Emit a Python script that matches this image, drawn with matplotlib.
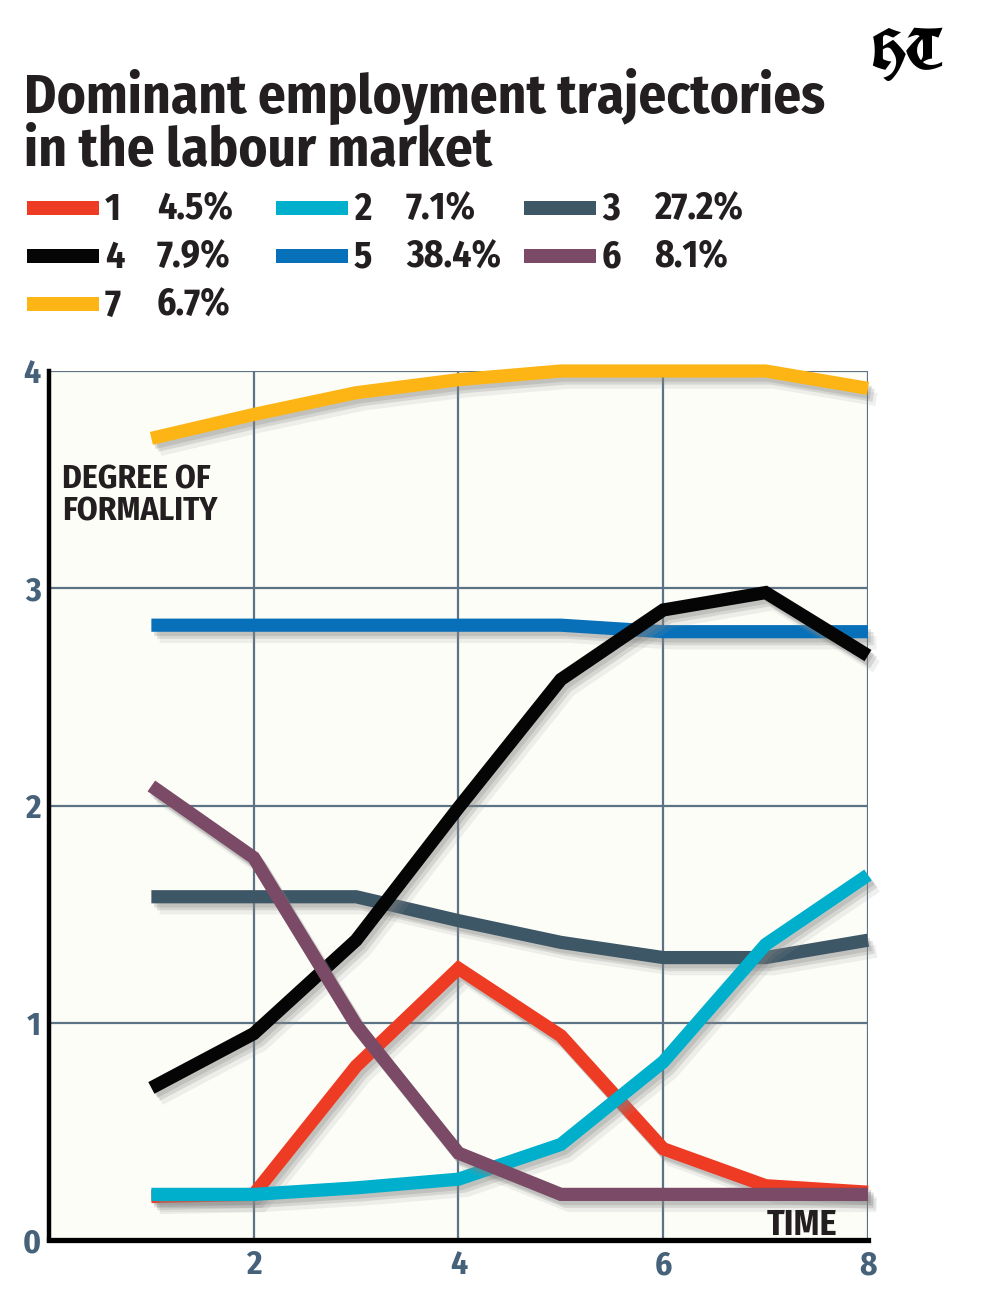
import matplotlib
matplotlib.use("Agg")
import matplotlib.pyplot as plt
import matplotlib.patheffects as pe

# data
time = [1, 2, 3, 4, 5, 6, 7, 8]
traj_ids = ["1", "2", "3", "4", "5", "6", "7"]
shares = ["4.5%", "7.1%", "27.2%", "7.9%", "38.4%", "8.1%", "6.7%"]
t1 = [0.20, 0.21, 0.80, 1.25, 0.94, 0.42, 0.25, 0.22]
t2 = [0.21, 0.21, 0.24, 0.28, 0.44, 0.82, 1.36, 1.68]
t3 = [1.58, 1.58, 1.58, 1.47, 1.37, 1.30, 1.30, 1.38]
t4 = [0.70, 0.95, 1.38, 1.99, 2.58, 2.90, 2.98, 2.69]
t5 = [2.83, 2.83, 2.83, 2.83, 2.83, 2.80, 2.80, 2.80]
t6 = [2.09, 1.76, 0.99, 0.40, 0.21, 0.21, 0.21, 0.21]
t7 = [3.69, 3.80, 3.90, 3.96, 4.00, 4.00, 4.00, 3.92]
xticks = [2, 4, 6, 8]
yticks = [0, 1, 2, 3, 4]
colors = ["#ee3b24", "#00afcb", "#3e5766", "#050505", "#0870b8", "#7a4a66", "#fdb515"]
series = [t1, t2, t3, t4, t5, t6, t7]
draw_order = [6, 4, 2, 3, 0, 1, 5]  # yellow at bottom, purple on top

COND = ["Fira Sans Condensed", "DejaVu Sans"]
INK = "#231f20"
TICK_C = "#46627a"

fig = plt.figure(figsize=(9.82, 13.02), dpi=100)
fig.patch.set_facecolor("white")

# title (two lines, baselines placed separately)
fig.text(0.024, 0.9132, "Dominant employment trajectories", fontsize=39.5,
         fontweight="bold", family=COND, color=INK, va="baseline", ha="left")
fig.text(0.024, 0.8725, "in the labour market", fontsize=39.5,
         fontweight="bold", family=COND, color=INK, va="baseline", ha="left")
fig.text(0.923, 0.958, "HT", fontsize=41, fontweight="bold",
         family=["UnifrakturCook", "UnifrakturMaguntia", "DejaVu Serif"],
         color="black", ha="center", va="center")

# legend: swatch, id, share
sw_x = [27, 276, 524]
row_mid = [208, 256, 304]
for i in range(7):
    r, c = divmod(i, 3)
    x0 = sw_x[c]
    ym = row_mid[r]
    fig.add_artist(plt.Rectangle((x0 / 982, 1 - (ym + 7) / 1302), 72 / 982, 14 / 1302,
                                 color=colors[i], transform=fig.transFigure, lw=0))
    base = 1 - (ym + 12) / 1302
    fig.text((x0 + 78) / 982, base, traj_ids[i], fontsize=27, fontweight="bold",
             family=COND, color=INK, va="baseline")
    fig.text((x0 + 130) / 982, base, shares[i], fontsize=27, fontweight="bold",
             family=COND, color=INK, va="baseline")

ax = fig.add_axes([49 / 982, 1 - 1240 / 1302, 819 / 982, 869 / 1302])
ax.set_facecolor("#fdfdf8")
ax.set_xlim(0, 8)
ax.set_ylim(0, 4)

grid_c = "#5b7384"
for gx in xticks:
    ax.axvline(gx, color=grid_c, lw=1.6, zorder=1)
for gy in yticks[1:]:
    ax.axhline(gy, color=grid_c, lw=1.6, zorder=1)

# soft drop shadow built from a few offset copies
shadow = [pe.SimpleLineShadow(offset=(2, -3), shadow_color="#808080", alpha=0.25),
          pe.SimpleLineShadow(offset=(4, -5), shadow_color="#808080", alpha=0.22),
          pe.SimpleLineShadow(offset=(6, -8), shadow_color="#909090", alpha=0.14),
          pe.Normal()]
for k, i in enumerate(draw_order):
    ax.plot(time, series[i], color=colors[i], lw=9.5, solid_capstyle="butt",
            solid_joinstyle="miter", clip_on=False, zorder=3 + k,
            path_effects=shadow)

for s in ["top", "right"]:
    ax.spines[s].set_visible(False)
ax.spines["left"].set_linewidth(3.2)
ax.spines["bottom"].set_linewidth(3.8)
ax.spines["left"].set_zorder(20)
ax.spines["bottom"].set_zorder(20)

ax.set_xticks(xticks)
ax.set_yticks(yticks)
ax.tick_params(length=0, labelsize=24, labelcolor=TICK_C)
ax.tick_params(axis="x", pad=7)
ax.tick_params(axis="y", pad=6)
for lab in ax.get_xticklabels() + ax.get_yticklabels():
    lab.set_fontweight("bold")
    lab.set_family(COND)

ax.text(0.13, 3.46, "DEGREE OF", fontsize=24, fontweight="bold",
        family=COND, color=INK, va="baseline", ha="left", zorder=2)
ax.text(0.13, 3.31, "FORMALITY", fontsize=24, fontweight="bold",
        family=COND, color=INK, va="baseline", ha="left", zorder=2)
ax.text(7.70, 0.025, "TIME", fontsize=26, fontweight="bold", family=COND,
        color=INK, va="baseline", ha="right", zorder=30)

fig.savefig("out.png", dpi=100)
